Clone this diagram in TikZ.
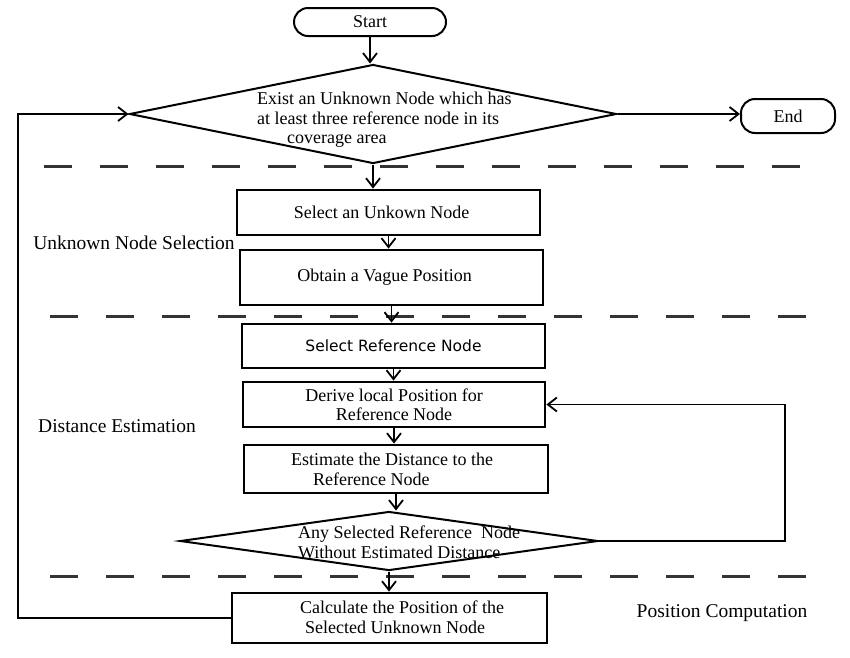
\documentclass[tikz,border=0pt]{standalone}
\usepackage{fontspec}
\setmainfont{Liberation Serif}
\newfontfamily\refsans{DejaVu Sans}
\usetikzlibrary{arrows.meta,shapes.geometric}
\begin{document}
\begin{tikzpicture}[x=1pt,y=-1pt,
  boxnode/.style={draw, line width=2.8pt, inner sep=0pt, align=center, font=\fontsize{18}{19.5}\selectfont},
  txt/.style={inner sep=0pt, font=\fontsize{18}{19.5}\selectfont},
  term/.style={draw, line width=2pt, rounded corners=14pt, inner sep=0pt, font=\fontsize{18}{20}\selectfont},
  dia/.style={draw, diamond, line width=2pt, inner sep=0pt},
  arr/.style={line width=1.8pt, -{Straight Barb[length=9pt,width=14pt]}},
  sepline/.style={line width=3pt, dash pattern=on 28pt off 28pt, black!80},
  lab/.style={inner sep=0pt, font=\fontsize{19.5}{22}\selectfont}]
\fill[white] (0,0) rectangle (850,657);
\useasboundingbox (0,0) rectangle (850,657);

% separators
\draw[sepline] (44,166) -- (800,166);
\draw[sepline] (50,316) -- (806,316);
\draw[sepline] (50,576) -- (806,576);

% nodes
\node[term, minimum width=152pt, minimum height=28pt] (start) at (370,22) {Start};
\node[dia, minimum width=487pt, minimum height=99pt] (d1) at (373,114) {};
\node[txt, anchor=west, align=left] (d1t) at (257,120) {Exist an Unknown Node which has\\at least three reference node in its\\\hspace*{30pt}coverage area};
\node[term, minimum width=94pt, minimum height=34pt] (end) at (788,116) {End};

\node[boxnode, minimum width=303pt, minimum height=45pt] (b1) at (388.5,212.5) {Select an Unkown Node\hspace*{14pt}};
\node[boxnode, minimum width=303pt, minimum height=55pt] (b2) at (391.5,277.5) {Obtain a Vague Position\hspace*{14pt}};
\node[boxnode, minimum width=303pt, minimum height=44pt, font=\refsans\fontsize{15.5}{18}\selectfont] (b3) at (393.5,346) {Select Reference Node};
\node[boxnode, minimum width=302pt, minimum height=45pt] (b4) at (394,404.5) {Derive local Position for\\Reference Node};
\node[boxnode, minimum width=304pt, minimum height=48pt] (b5) at (396,469) {};
\node[txt, anchor=west, align=left] (b5t) at (291,469.5) {Estimate the Distance to the\\\hspace*{22pt}Reference Node};
\node[dia, minimum width=418pt, minimum height=59pt] (d2) at (389,541) {};
\node[txt, anchor=west, align=left] (d2t) at (298,542.5) {Any Selected Reference\ \ Node\\Without Estimated Distance};
\node[boxnode, minimum width=315pt, minimum height=50pt] (b6) at (389.5,618) {};
\node[txt, anchor=west, align=left] (b6t) at (300,617) {Calculate the Position of the\\\hspace*{5pt}Selected Unknown Node};

% section labels
\node[lab] (l1) at (134,243) {Unknown Node Selection};
\node[lab] (l2) at (117,426) {Distance Estimation};
\node[lab] (l3) at (722,613) {Position Computation};

% connectors
\draw[arr] (start.south) -- (start.south |- d1.north);
\draw[arr] (d1.east) -- (d1.east -| end.west);
\draw[arr] (d1.south) -- (d1.south |- b1.north);
\draw[arr] (b1.south) -- (b1.south |- b2.north);
\draw[arr] (b2.south) -- (b2.south |- b3.north);
\draw[arr] (b3.south) -- (b3.south |- b4.north);
\draw[arr] (b4.south) -- (b4.south |- b5.north);
\draw[arr] (b5.south) -- (b5.south |- d2.north);
\draw[arr] (d2.south) -- (d2.south |- b6.north);
\coordinate (rx) at (785,541);
\draw[arr] (d2.east) -- (rx) |- (b4.east);
\coordinate (lx) at (18,618);
\draw[arr] (b6.west) -- (lx) |- (d1.west);
\end{tikzpicture}
\end{document}
